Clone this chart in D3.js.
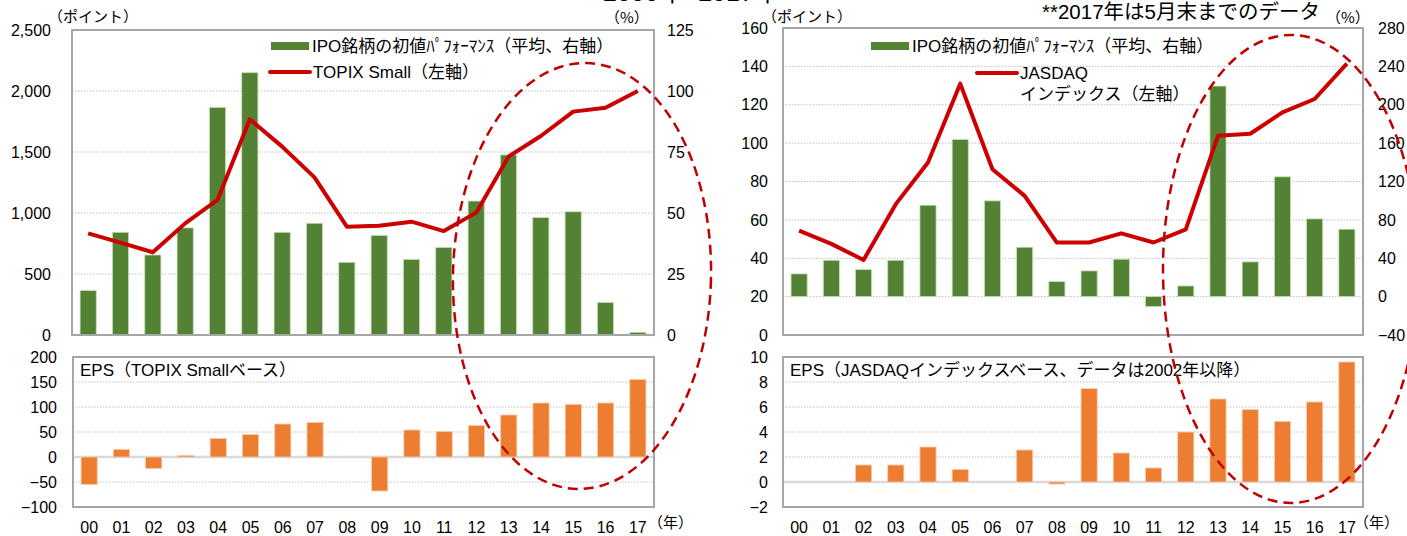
<!DOCTYPE html>
<html><head><meta charset="utf-8">
<script src="https://cdn.jsdelivr.net/npm/d3@7"></script>
<style>
body{margin:0;background:#fff;overflow:hidden}
svg{display:block}
text{font-family:"Liberation Sans",Arial,"Noto Sans CJK JP",sans-serif;fill:#000}
</style>
</head><body>
<svg id="chart" width="1407" height="536"></svg>
<script>
// ---------- data ----------
const years = ["00","01","02","03","04","05","06","07","08","09","10","11","12","13","14","15","16","17"];
// left chart (TOPIX Small)
const ipoPerfTopix = [18.2,42.1,32.8,43.9,93.3,107.5,42.1,45.8,29.8,40.8,31.0,35.9,54.9,73.8,48.1,50.5,13.3,1.1];
const topixSmall   = [833,757,678,915,1107,1768,1544,1292,888,896,929,852,1003,1462,1631,1831,1863,2000];
const epsTopix     = [-55,15,-23,3,37,45,66,69,0,-68,54,51,63,84,108,105,108,155];
// right chart (JASDAQ)
const ipoPerfJasdaq = [23.7,37.9,28.2,37.9,95.3,163.8,99.8,51.5,15.7,26.8,39.0,-10.4,11.1,219.5,36.2,124.9,81.0,70.3];
const jasdaqIndex   = [54.4,47.5,39.1,68.2,89.9,131.0,86.4,72.5,48.2,48.2,53.0,48.2,55.1,103.8,104.9,116.0,123.0,141.4];
const epsJasdaq     = [null,null,1.36,1.36,2.8,1.01,null,2.56,-0.16,7.47,2.32,1.12,4.0,6.64,5.79,4.85,6.4,9.6];
// tick values
const topixLeftTicks  = [0,500,1000,1500,2000,2500];
const topixRightTicks = [0,25,50,75,100,125];
const jasdaqLeftTicks  = [0,20,40,60,80,100,120,140,160];
const jasdaqRightTicks = [-40,0,40,80,120,160,200,240,280];
const epsTopixTicks  = [-100,-50,0,50,100,150,200];
const epsJasdaqTicks = [-2,0,2,4,6,8,10];
// texts
const legendIpo = "IPO銘柄の初値ﾊﾟﾌｫｰﾏﾝｽ（平均、右軸）";
const legendTopix = "TOPIX Small（左軸）";
const legendJasdaq1 = "JASDAQ";
const legendJasdaq2 = "インデックス（左軸）";
const epsTopixLabel = "EPS（TOPIX Smallベース）";
const epsJasdaqLabel = "EPS（JASDAQインデックスベース、データは2002年以降）";
const noteText = "**2017年は5月末までのデータ";
const titleText = "2000年~2017年";

// ---------- styles ----------
const GREEN = "#548235", ORANGE = "#ED7D31", RED = "#CC0000", DASH = "#C00000";
const FRAME = "#A6A6A6", GRID = "#BFBFBF";

const svg = d3.select("#chart");

function styleAxis(g, anchor) {
  g.select(".domain").remove();
  g.selectAll("text").attr("font-size", 16).attr("fill", "#000")
    .style("font-family", '"Liberation Sans",Arial,sans-serif').attr("text-anchor", anchor);
}

function frame(x0, x1, y0, y1) {
  svg.append("rect").attr("x", x0).attr("y", y0).attr("width", x1 - x0).attr("height", y1 - y0)
    .attr("fill", "none").attr("stroke", FRAME).attr("stroke-width", 2);
}

function grid(x0, x1, scale, ticks, skip) {
  svg.append("g").selectAll("line").data(ticks.filter(t => !skip.includes(t))).join("line")
    .attr("x1", x0).attr("x2", x1).attr("y1", d => scale(d)).attr("y2", d => scale(d))
    .attr("stroke", GRID).attr("stroke-width", 1).attr("stroke-dasharray", "1.5,1.5");
}

function topPanel(cfg) {
  const x = d3.scaleBand().domain(years).range([cfg.x0, cfg.x1]).paddingInner(0.5).paddingOuter(0.25);
  const yL = d3.scaleLinear().domain(cfg.leftDomain).range([cfg.y1, cfg.y0]);
  const yR = d3.scaleLinear().domain(cfg.rightDomain).range([cfg.y1, cfg.y0]);
  grid(cfg.x0, cfg.x1, yL, cfg.leftTicks, [cfg.leftDomain[0], cfg.leftDomain[1]]);
  svg.append("g").selectAll("rect").data(cfg.bars).join("rect")
    .attr("x", (d, i) => x(years[i]))
    .attr("width", x.bandwidth())
    .attr("y", d => Math.min(yR(d), yR(0)))
    .attr("height", d => Math.abs(yR(d) - yR(0)))
    .attr("fill", GREEN).attr("stroke", "#C5E0B4").attr("stroke-width", 0.8);
  frame(cfg.x0, cfg.x1, cfg.y0, cfg.y1);
  const line = d3.line().x((d, i) => x(years[i]) + x.bandwidth() / 2).y(d => yL(d));
  svg.append("path").datum(cfg.line).attr("d", line).attr("fill", "none")
    .attr("stroke", RED).attr("stroke-width", 4).attr("stroke-linejoin", "round");
  const gl = svg.append("g").attr("transform", `translate(${cfg.x0},0)`)
    .call(d3.axisLeft(yL).tickValues(cfg.leftTicks).tickSize(0).tickPadding(cfg.padL).tickFormat(cfg.fmtL));
  styleAxis(gl, "end");
  const gr = svg.append("g").attr("transform", `translate(${cfg.x1},0)`)
    .call(d3.axisRight(yR).tickValues(cfg.rightTicks).tickSize(0).tickPadding(cfg.padR).tickFormat(d3.format("d")));
  styleAxis(gr, "start");
}

function bottomPanel(cfg) {
  const x = d3.scaleBand().domain(years).range([cfg.x0, cfg.x1]).paddingInner(0.5).paddingOuter(0.25);
  const y = d3.scaleLinear().domain(cfg.domain).range([cfg.y1, cfg.y0]);
  grid(cfg.x0, cfg.x1, y, cfg.ticks, [cfg.domain[0], cfg.domain[1], 0]);
  svg.append("line").attr("x1", cfg.x0).attr("x2", cfg.x1).attr("y1", y(0)).attr("y2", y(0))
    .attr("stroke", "#D9D9D9").attr("stroke-width", 2.5);
  svg.append("g").selectAll("rect").data(cfg.bars.map((v, i) => ({v, k: years[i]})).filter(d => d.v !== null && d.v !== 0)).join("rect")
    .attr("x", d => x(d.k)).attr("width", x.bandwidth())
    .attr("y", d => Math.min(y(d.v), y(0)))
    .attr("height", d => Math.abs(y(d.v) - y(0)))
    .attr("fill", ORANGE).attr("stroke", "#F8CBAD").attr("stroke-width", 0.8);
  frame(cfg.x0, cfg.x1, cfg.y0, cfg.y1);
  const g = svg.append("g").attr("transform", `translate(${cfg.x0},0)`)
    .call(d3.axisLeft(y).tickValues(cfg.ticks).tickSize(0).tickPadding(cfg.padL).tickFormat(d3.format("d")));
  styleAxis(g, "end");
  svg.append("g").selectAll("text").data(years).join("text")
    .attr("x", d => x(d) + x.bandwidth() / 2).attr("y", 533)
    .attr("text-anchor", "middle").attr("font-size", 16).text(d => d);
  svg.append("text").attr("x", cfg.x1 + cfg.yearDx).attr("y", 528).attr("font-size", 15)
    .style("font-family", '"Noto Sans CJK JP",sans-serif').text("（年）");
  svg.append("text").attr("x", cfg.x0 + 7).attr("y", 376).attr("font-size", 17).text(cfg.label);
}

// ---------- left chart ----------
topPanel({x0: 72, x1: 654, y0: 30, y1: 335, leftDomain: [0, 2500], rightDomain: [0, 125],
  leftTicks: topixLeftTicks, rightTicks: topixRightTicks, bars: ipoPerfTopix, line: topixSmall,
  padL: 21, padR: 13, fmtL: d3.format(",")});
bottomPanel({x0: 73, x1: 654, y0: 357, y1: 507, domain: [-100, 200], ticks: epsTopixTicks,
  bars: epsTopix, padL: 16, label: epsTopixLabel, yearDx: -6});

// ---------- right chart ----------
topPanel({x0: 783, x1: 1363, y0: 28, y1: 335, leftDomain: [0, 160], rightDomain: [-40, 280],
  leftTicks: jasdaqLeftTicks, rightTicks: jasdaqRightTicks, bars: ipoPerfJasdaq, line: jasdaqIndex,
  padL: 15, padR: 15, fmtL: d3.format("d")});
bottomPanel({x0: 783, x1: 1363, y0: 357, y1: 507, domain: [-2, 10], ticks: epsJasdaqTicks,
  bars: epsJasdaq, padL: 15, label: epsJasdaqLabel, yearDx: -9});

// ---------- legends ----------
function legend(gx, gy, lx, ly, lines) {
  svg.append("rect").attr("x", gx).attr("y", gy).attr("width", 38).attr("height", 8).attr("fill", GREEN);
  svg.append("text").attr("x", gx + 41).attr("y", gy + 10).attr("font-size", 17).text(legendIpo);
  svg.append("line").attr("x1", lx).attr("x2", lx + 40).attr("y1", ly).attr("y2", ly)
    .attr("stroke", RED).attr("stroke-width", 4).attr("stroke-linecap", "round");
  lines.forEach((t, i) => svg.append("text").attr("x", lx + 43).attr("y", ly + 6 + i * 21)
    .attr("font-size", 17).text(t));
}
legend(271, 42, 270, 72, [legendTopix]);
legend(871, 42, 977, 73, [legendJasdaq1, legendJasdaq2]);

// ---------- unit labels ----------
function unit(x, y, t) {
  svg.append("text").attr("x", x).attr("y", y).attr("font-size", 15)
    .style("font-family", '"Noto Sans CJK JP",sans-serif').text(t);
}
unit(48, 22, "（ポイント）");
unit(605, 23, "（%）");
unit(762, 22, "（ポイント）");
unit(1326, 23, "（%）");
svg.append("text").attr("x", 1042).attr("y", 19).attr("font-size", 20.5).text(noteText);
svg.append("text").attr("x", 603).attr("y", 1).attr("font-size", 25).text(titleText);

// ---------- highlight ellipses ----------
svg.append("ellipse").attr("cx", 582).attr("cy", 276).attr("rx", 129).attr("ry", 213)
  .attr("transform", "rotate(1.3,582,276)")
  .attr("fill", "none").attr("stroke", DASH).attr("stroke-width", 2.5).attr("stroke-dasharray", "10,6");
svg.append("ellipse").attr("cx", 1291).attr("cy", 269).attr("rx", 128).attr("ry", 234)
  .attr("fill", "none").attr("stroke", DASH).attr("stroke-width", 2.5).attr("stroke-dasharray", "10,6");
</script>
</body></html>
